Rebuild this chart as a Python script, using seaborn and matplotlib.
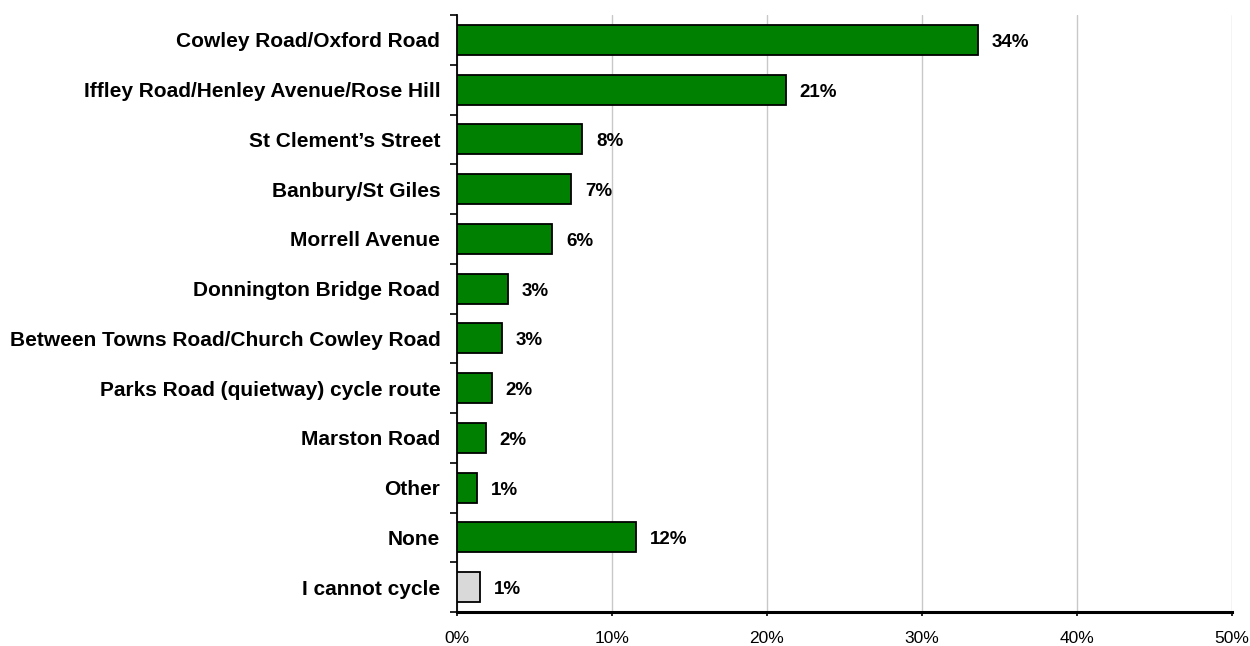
import pandas as pd
import seaborn as sns
import matplotlib.pyplot as plt
from matplotlib.ticker import FixedLocator, PercentFormatter

# Data
routes = [
    "Cowley Road/Oxford Road",
    "Iffley Road/Henley Avenue/Rose Hill",
    "St Clement\u2019s Street",
    "Banbury/St Giles",
    "Morrell Avenue",
    "Donnington Bridge Road",
    "Between Towns Road/Church Cowley Road",
    "Parks Road (quietway) cycle route",
    "Marston Road",
    "Other",
    "None",
    "I cannot cycle",
]
shares = [33.6, 21.2, 8.06, 7.37, 6.13, 3.29, 2.9, 2.24, 1.85, 1.29, 11.57, 1.48]
labels = ["34%", "21%", "8%", "7%", "6%", "3%", "3%", "2%", "2%", "1%", "12%", "1%"]

df = pd.DataFrame({"route": routes, "share": shares})
colours = {r: "#008000" for r in routes}
colours["I cannot cycle"] = "#d9d9d9"

sns.set_style("white")
plt.rcParams["font.family"] = ["Liberation Sans", "DejaVu Sans"]
plt.rcParams["text.color"] = "black"
plt.rcParams["xtick.color"] = "black"
plt.rcParams["ytick.color"] = "black"

fig = plt.figure(figsize=(12.5, 6.46), dpi=100)
ax = fig.add_axes([457 / 1250, 1 - 612 / 646, (1232 - 457) / 1250, (612 - 15) / 646])

sns.barplot(data=df, x="share", y="route", hue="route", palette=colours,
            order=routes, orient="h", width=0.6, edgecolor="black",
            linewidth=1.3, saturation=1, legend=False, ax=ax, zorder=3)

for i, (v, lab) in enumerate(zip(shares, labels)):
    ax.text(v + 0.9, i + 0.05, lab, va="center", ha="left", fontsize=13.5,
            fontweight="bold", color="black")

ax.set_xlim(0, 50)
ax.set_ylim(len(routes) - 0.5, -0.5)
ax.xaxis.set_major_formatter(PercentFormatter(decimals=0))
ax.set_xticks(range(0, 51, 10))
ax.grid(axis="x", color="#c8c8c8", linewidth=1, zorder=0)
ax.set_xlabel("")
ax.set_ylabel("")

for s in ["top", "right"]:
    ax.spines[s].set_visible(False)
ax.spines["left"].set_color("black")
ax.spines["left"].set_linewidth(1.3)
ax.spines["bottom"].set_color("black")
ax.spines["bottom"].set_linewidth(2.2)

ax.tick_params(axis="x", length=3, width=1.2, direction="out",
               bottom=True, labelsize=12.5, pad=11)
ax.tick_params(axis="y", which="major", length=0, pad=12)
ax.yaxis.set_minor_locator(FixedLocator([i - 0.5 for i in range(len(routes) + 1)]))
ax.tick_params(axis="y", which="minor", length=5, width=1.2,
               left=True, direction="out")
for t in ax.get_yticklabels():
    t.set_fontweight("bold")
    t.set_fontsize(15)

fig.savefig("out.png", dpi=100)
